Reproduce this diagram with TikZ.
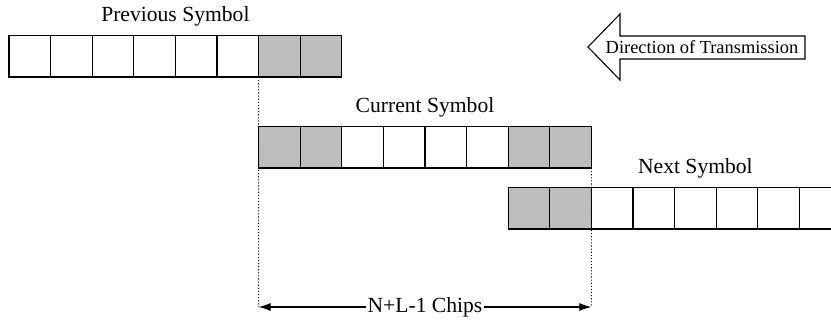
\documentclass[tikz,border=0pt]{standalone}
\usepackage{fontspec}
\setmainfont{Liberation Serif}
\usetikzlibrary{positioning, arrows.meta}

\tikzset{
  cell/.style={draw, line width=0.55pt, minimum width=20.8pt, minimum height=20.7pt,
               inner sep=0pt, outer sep=0pt, anchor=south west},
  guard/.style={cell, fill=black!26},
  symlabel/.style={font=\fontsize{10.8}{13}\selectfont, inner sep=1pt},
  marker/.style={densely dotted, line width=0.55pt},
}

\begin{document}
\begin{tikzpicture}[x=0.5pt, y=0.5pt]
    \useasboundingbox (0,0) rectangle (831,320);
    \clip (0,0) rectangle (831,320);

    % the three symbol rows, guard chips shaded
    \foreach \i/\s in {0/cell,1/cell,2/cell,3/cell,4/cell,5/cell,6/guard,7/guard}
        \node[\s] (p\i) at (9+41.6*\i, 243) {};
    \foreach \i/\s in {0/guard,1/guard,2/cell,3/cell,4/cell,5/cell,6/guard,7/guard}
        \node[\s] (c\i) at (258.6+41.6*\i, 152) {};
    \foreach \i/\s in {0/guard,1/guard,2/cell,3/cell,4/cell,5/cell,6/cell,7/cell}
        \node[\s] (n\i) at (508.2+41.6*\i, 91) {};

    % row titles
    \node[symlabel, above=3.5pt of p3.north east] (prevlabel) {Previous Symbol};
    \node[symlabel, above=3.5pt of c3.north east] (curlabel) {Current Symbol};
    \node[symlabel, above=3.5pt of n4.north] (nextlabel) {Next Symbol};

    % span of one symbol
    \coordinate (spanL) at (258.6, 13);
    \coordinate (spanR) at (591.4, 13);
    \draw[marker] (p6.south west) -- (spanL);
    \draw[marker] (c7.south east) -- (spanR);
    \draw[{Latex[length=6pt,width=4pt]}-{Latex[length=6pt,width=4pt]}, line width=0.55pt]
        (spanL) -- node[symlabel, fill=white] (span) {N+L-1 Chips} (spanR);

    % hollow arrow pointing left
    \draw[line width=0.55pt] (588,273) -- (620,306) -- (620,284) -- (805,284)
        -- (805,261) -- (620,261) -- (620,240) -- cycle;
    \node[font=\fontsize{9.2}{11}\selectfont, inner sep=0pt] (dir) at (702,272.5)
        {Direction of Transmission};
\end{tikzpicture}
\end{document}
